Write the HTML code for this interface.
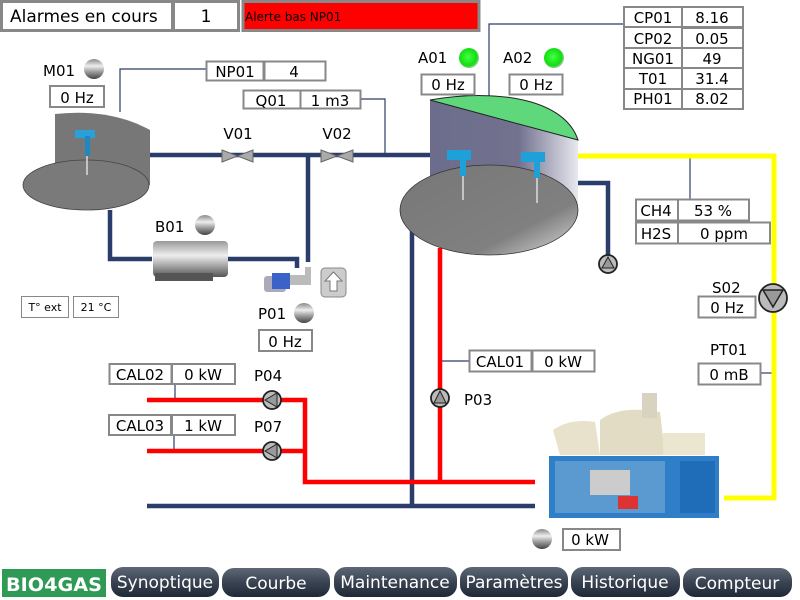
<!DOCTYPE html>
<html><head><meta charset="utf-8"><style>
html,body{margin:0;padding:0;background:#fff;width:800px;height:600px;overflow:hidden}
svg{display:block;font-family:"DejaVu Sans","Liberation Sans",sans-serif}
</style></head><body>
<svg width="800" height="600" viewBox="0 0 800 600" xmlns="http://www.w3.org/2000/svg">
<defs>
<linearGradient id="gball" x1="0" y1="0" x2="0" y2="1"><stop offset="0" stop-color="#888"/><stop offset="0.35" stop-color="#eee"/><stop offset="0.65" stop-color="#999"/><stop offset="1" stop-color="#444"/></linearGradient>
<radialGradient id="green" cx="45%" cy="45%" r="55%"><stop offset="0" stop-color="#4f4"/><stop offset="0.8" stop-color="#1d1"/><stop offset="1" stop-color="#9c9"/></radialGradient>
<linearGradient id="tank" x1="0" y1="0" x2="1" y2="0"><stop offset="0" stop-color="#6c6c8c"/><stop offset="0.6" stop-color="#72728f"/><stop offset="1" stop-color="#e8e8f0"/></linearGradient>
<linearGradient id="btm" x1="0" y1="0" x2="1" y2="1"><stop offset="0" stop-color="#777"/><stop offset="0.7" stop-color="#808080"/><stop offset="1" stop-color="#ddd"/></linearGradient>
<linearGradient id="btn" x1="0" y1="0" x2="0" y2="1"><stop offset="0" stop-color="#5d6775"/><stop offset="0.5" stop-color="#3a4352"/><stop offset="1" stop-color="#1f2836"/></linearGradient>
<linearGradient id="blow" x1="0" y1="0" x2="0" y2="1"><stop offset="0" stop-color="#999"/><stop offset="0.4" stop-color="#eee"/><stop offset="1" stop-color="#555"/></linearGradient>
</defs>
<g font-size="15" fill="#000">
<rect x="1.5" y="1.5" width="171" height="29" fill="#fff" stroke="#888" stroke-width="3"/>
<rect x="173.5" y="1.5" width="65" height="29" fill="#fff" stroke="#888" stroke-width="3"/>
<text x="10" y="22" font-size="17">Alarmes en cours</text>
<text x="206" y="22" font-size="17" text-anchor="middle">1</text>
<rect x="243" y="1.5" width="236" height="29" fill="#f00" stroke="#888" stroke-width="3"/>
<text x="245" y="21" font-size="12">Alerte bas NP01</text>

<g stroke="#2b3d66" stroke-width="1.2" fill="none">
<polyline points="120,112 120,69 206,69"/>
<polyline points="361,99 385,99 385,155"/>
<polyline points="489,97 489,24 624,24"/>
<polyline points="690,157 690,199"/>
<polyline points="441,361 469,361"/>
<polyline points="175,384 175,400"/>
<polyline points="174,435 174,451"/>
<polyline points="761,373 774,373"/>
</g>

<g stroke="#2b3d6b" stroke-width="4.5" fill="none">
<line x1="148" y1="155" x2="432" y2="155"/>
<polyline points="308,155 308,262"/>
<polyline points="110,210 110,259 152,259"/>
<polyline points="228,259 297,259 297,268"/>
<polyline points="578,183 608,183 608,255"/>
<line x1="412" y1="230" x2="412" y2="506"/>
<line x1="147" y1="506" x2="535" y2="506"/>
</g>
<g stroke="#f00" stroke-width="4.5" fill="none">
<line x1="440" y1="248" x2="440" y2="482"/>
<polyline points="147,400 305,400 305,482 535,482"/>
<line x1="147" y1="451" x2="305" y2="451"/>
</g>
<polyline points="578,156 774,156 774,498 724,498" stroke="#ff0" stroke-width="5" fill="none"/>

<path d="M55,114 Q110,108 150,130 L150,185 L55,185 Z" fill="#777"/>
<ellipse cx="86" cy="185" rx="63" ry="25" fill="#7a7a7a" stroke="#444" stroke-width="0.8"/>
<rect x="75" y="130" width="20" height="8" fill="#29a0d8"/>
<rect x="85" y="136" width="5" height="20" fill="#1f88c0"/>
<line x1="87" y1="156" x2="87" y2="175" stroke="#ddd" stroke-width="1.5"/>
<text x="43" y="76">M01</text>
<circle cx="94" cy="69" r="10" fill="url(#gball)"/>
<rect x="50" y="86" width="54" height="21" fill="#fff" stroke="#888" stroke-width="2"/>
<text x="77" y="103" text-anchor="middle">0 Hz</text>

<rect x="206.5" y="61.5" width="57" height="19" fill="#fff" stroke="#888" stroke-width="2"/>
<rect x="264.5" y="61.5" width="61" height="19" fill="#fff" stroke="#888" stroke-width="2"/>
<text x="235" y="77" text-anchor="middle">NP01</text><text x="294" y="77" text-anchor="middle">4</text>
<rect x="243.5" y="90.5" width="57" height="18" fill="#fff" stroke="#888" stroke-width="2"/>
<rect x="300.5" y="90.5" width="60" height="18" fill="#fff" stroke="#888" stroke-width="2"/>
<text x="271" y="106" text-anchor="middle">Q01</text><text x="330" y="106" text-anchor="middle">1 m3</text>

<g fill="#aaa" stroke="#666">
<path d="M222,150 L253,162 L253,150 L222,162 Z"/>
<path d="M321,150 L353,162 L353,150 L321,162 Z"/>
</g>
<text x="238" y="139" text-anchor="middle">V01</text>
<text x="337" y="139" text-anchor="middle">V02</text>

<text x="155" y="232">B01</text>
<circle cx="205" cy="225" r="10" fill="url(#gball)"/>
<rect x="153" y="241" width="75" height="36" rx="4" fill="url(#blow)"/>
<rect x="155" y="273" width="58" height="8" fill="#555"/>

<rect x="264" y="276" width="22" height="16" rx="3" fill="#aab"/>
<rect x="272" y="273" width="18" height="16" fill="#3a62c8"/>
<path d="M290,275 h15 v-8 h6 v18 h-21 z" fill="#bbb"/>
<rect x="321" y="268" width="25" height="29" rx="4" fill="#ccc" stroke="#888"/>
<path d="M333.5,272 L342,281 L337,281 L337,291 L330,291 L330,281 L325,281 Z" fill="#fff" stroke="#777"/>
<text x="258" y="319">P01</text>
<circle cx="304" cy="313" r="10" fill="url(#gball)"/>
<rect x="259" y="330" width="53" height="21" fill="#fff" stroke="#888" stroke-width="2"/>
<text x="285" y="347" text-anchor="middle">0 Hz</text>

<rect x="21.5" y="296.5" width="47" height="21" fill="#fff" stroke="#888"/>
<rect x="73.5" y="296.5" width="45" height="21" fill="#fff" stroke="#888"/>
<text x="45" y="311" font-size="11" text-anchor="middle">T° ext</text>
<text x="96" y="311" font-size="11" text-anchor="middle">21 °C</text>

<!-- main tank -->
<path d="M430,100 L578,140 L578,210 L430,210 Z" fill="url(#tank)"/>
<path d="M430,100 C500,88 565,100 578,140 Z" fill="#5ed87a" stroke="#222" stroke-width="1"/>
<ellipse cx="489" cy="210" rx="89" ry="45" fill="url(#btm)" stroke="#333" stroke-width="0.8"/>
<g fill="#1fa0d8"><rect x="447" y="150" width="24" height="10"/><rect x="460" y="158" width="6" height="18"/><rect x="521" y="152" width="24" height="10"/><rect x="534" y="160" width="6" height="18"/></g>
<g stroke="#ddd" stroke-width="1.5"><line x1="463" y1="176" x2="463" y2="200"/><line x1="537" y1="178" x2="537" y2="203"/></g>
<text x="418" y="63">A01</text><circle cx="469" cy="58" r="10" fill="url(#green)"/>
<text x="503" y="63">A02</text><circle cx="554" cy="58" r="10" fill="url(#green)"/>
<rect x="421.5" y="74.5" width="53" height="20" fill="#fff" stroke="#888" stroke-width="2"/>
<rect x="509.5" y="74.5" width="53" height="20" fill="#fff" stroke="#888" stroke-width="2"/>
<text x="448" y="90" text-anchor="middle">0 Hz</text><text x="536" y="90" text-anchor="middle">0 Hz</text>

<g fill="#fff" stroke="#888" stroke-width="2">
<rect x="624" y="7" width="58" height="20"/><rect x="682" y="7" width="61" height="20"/>
<rect x="624" y="27" width="58" height="21"/><rect x="682" y="28" width="61" height="20"/>
<rect x="624" y="48" width="58" height="20"/><rect x="682" y="48" width="61" height="20"/>
<rect x="624" y="68" width="58" height="21"/><rect x="682" y="68" width="61" height="21"/>
<rect x="624" y="89" width="58" height="20"/><rect x="682" y="89" width="61" height="20"/>
</g>
<g text-anchor="middle">
<text x="653" y="23">CP01</text><text x="712" y="23">8.16</text>
<text x="653" y="44">CP02</text><text x="712" y="44">0.05</text>
<text x="653" y="64">NG01</text><text x="712" y="64">49</text>
<text x="653" y="84">T01</text><text x="712" y="84">31.4</text>
<text x="653" y="104">PH01</text><text x="712" y="104">8.02</text>
</g>

<g fill="#fff" stroke="#888" stroke-width="2">
<rect x="636" y="199.5" width="42" height="21"/><rect x="678" y="199.5" width="71" height="21"/>
<rect x="636" y="222.5" width="42" height="21"/><rect x="678" y="222.5" width="92" height="21"/>
</g>
<text x="656" y="216" text-anchor="middle">CH4</text><text x="713" y="216" text-anchor="middle">53 %</text>
<text x="656" y="239" text-anchor="middle">H2S</text><text x="724" y="239" text-anchor="middle">0 ppm</text>

<g stroke="#222" stroke-width="1.8" fill="#bbb">
<circle cx="608" cy="264" r="9"/><path d="M608,257 L614,268 L602,268 Z" fill="#999" stroke-width="1"/>
<circle cx="773" cy="298" r="14"/><path d="M763,290 L783,290 L773,307 Z" fill="#999" stroke-width="1.5"/>
<circle cx="440" cy="398" r="9"/><path d="M440,391 L446,403 L434,403 Z" fill="#999" stroke-width="1"/>
<circle cx="272" cy="400" r="9"/><path d="M265,400 L277,393 L277,407 Z" fill="#999" stroke-width="1"/>
<circle cx="272" cy="451" r="9"/><path d="M265,451 L277,444 L277,458 Z" fill="#999" stroke-width="1"/>
</g>

<text x="712" y="293">S02</text>
<rect x="698.5" y="296.5" width="57" height="21" fill="#fff" stroke="#888" stroke-width="2"/>
<text x="727" y="313" text-anchor="middle">0 Hz</text>
<text x="710" y="355">PT01</text>
<rect x="698.5" y="363.5" width="62" height="21" fill="#fff" stroke="#888" stroke-width="2"/>
<text x="729" y="380" text-anchor="middle">0 mB</text>

<g fill="#fff" stroke="#888" stroke-width="2">
<rect x="469.5" y="350.5" width="62" height="21"/><rect x="532.5" y="350.5" width="62" height="21"/>
<rect x="109.5" y="364" width="62" height="20"/><rect x="172" y="364" width="63" height="20"/>
<rect x="109" y="415" width="62" height="20"/><rect x="172" y="415" width="63" height="20"/>
</g>
<text x="500" y="367" text-anchor="middle">CAL01</text><text x="563" y="367" text-anchor="middle">0 kW</text>
<text x="140" y="380" text-anchor="middle">CAL02</text><text x="203" y="380" text-anchor="middle">0 kW</text>
<text x="140" y="431" text-anchor="middle">CAL03</text><text x="203" y="431" text-anchor="middle">1 kW</text>
<text x="254" y="381">P04</text><text x="254" y="432">P07</text>
<text x="464" y="405">P03</text>

<path d="M553,430 Q570,418 595,422 L600,455 L560,455 Z" fill="#e8e2cc"/>
<path d="M600,420 Q620,405 660,412 L665,455 L600,455 Z" fill="#e3dcc4"/>
<rect x="642" y="393" width="15" height="25" fill="#d8d2c0"/>
<rect x="663" y="433" width="42" height="22" fill="#ece6d0"/>
<rect x="549" y="456" width="170" height="62" fill="#2f7fc8"/>
<rect x="555" y="461" width="110" height="52" fill="#5a9ad0"/>
<rect x="590" y="470" width="40" height="25" fill="#ccc"/>
<rect x="618" y="496" width="20" height="13" fill="#d33"/>
<rect x="680" y="461" width="35" height="52" fill="#1f6cb8"/>

<circle cx="542" cy="539" r="10" fill="url(#gball)"/>
<rect x="563" y="529" width="57" height="21" fill="#fff" stroke="#888" stroke-width="2"/>
<text x="590" y="545" text-anchor="middle">0 kW</text>

<rect x="2" y="569" width="104" height="28" fill="#2e9a55"/>
<text x="54" y="591" font-size="19" font-weight="bold" fill="#fff" text-anchor="middle" textLength="96" lengthAdjust="spacingAndGlyphs">BIO4GAS</text>
<g fill="url(#btn)">
<rect x="111" y="567" width="108" height="30" rx="12"/>
<rect x="222" y="568" width="108" height="29" rx="12"/>
<rect x="334" y="567" width="123" height="30" rx="12"/>
<rect x="460" y="567" width="108" height="30" rx="12"/>
<rect x="571" y="567" width="109" height="30" rx="12"/>
<rect x="683" y="568" width="109" height="29" rx="12"/>
</g>
<g fill="#fff" font-size="17" text-anchor="middle">
<text x="165" y="588">Synoptique</text>
<text x="276" y="589">Courbe</text>
<text x="395" y="588">Maintenance</text>
<text x="514" y="588">Paramètres</text>
<text x="625" y="588">Historique</text>
<text x="737" y="589">Compteur</text>
</g>
</g>
</svg>
</body></html>
